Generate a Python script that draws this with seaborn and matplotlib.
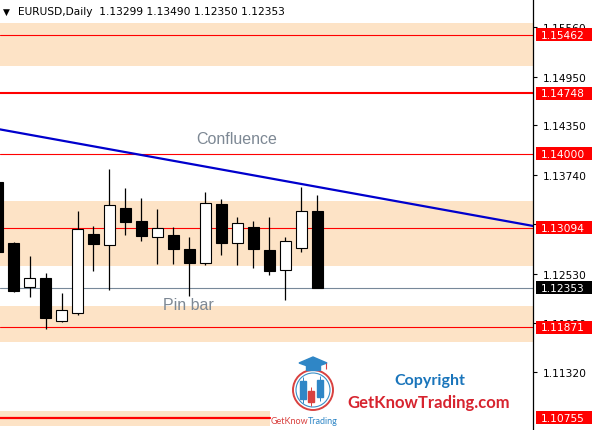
import pandas as pd
import matplotlib.pyplot as plt
import matplotlib.transforms as mtransforms
from matplotlib import patches
import seaborn as sns

sns.set_style("white")
plt.rcParams["font.family"] = ["DejaVu Sans"]

# daily EURUSD candles
opens = [1.13655, 1.12905, 1.12365, 1.12475, 1.11947, 1.12045, 1.13016, 1.12881, 1.13336, 1.13176, 1.12979,
         1.13004, 1.12832, 1.12660, 1.13385, 1.12905, 1.13102, 1.12819, 1.12574, 1.12844, 1.13299]
highs = [1.13700, 1.12920, 1.12746, 1.12537, 1.12291, 1.13299, 1.13114, 1.13815, 1.13581, 1.13458, 1.13323,
         1.13102, 1.12979, 1.13532, 1.13446, 1.13225, 1.13176, 1.13225, 1.12979, 1.13594, 1.13490]
lows = [1.12780, 1.12303, 1.12242, 1.11848, 1.11935, 1.12020, 1.12561, 1.12328, 1.13004, 1.12930, 1.12647,
        1.12647, 1.12254, 1.12635, 1.12758, 1.12635, 1.12598, 1.12512, 1.12205, 1.12795, 1.12350]
closes = [1.12795, 1.12315, 1.12475, 1.11984, 1.12082, 1.13077, 1.12893, 1.13372, 1.13163, 1.12991, 1.13090,
          1.12832, 1.12660, 1.13397, 1.12905, 1.13151, 1.12832, 1.12561, 1.12930, 1.13299, 1.12353]

levels = [1.15462, 1.14748, 1.14000, 1.13094, 1.11871]
level_lw = [0.8, 1.5, 0.8, 0.8, 0.8]
zones = [(1.15081, 1.15609), (1.12623, 1.13422), (1.11689, 1.12131)]
low_zone = (1.10656, 1.10840)
low_level = 1.10755
last_price = 1.12353
trend_x = [0, 34]
trend_y = [1.14307, 1.13096]
ticks = [1.15560, 1.14950, 1.14350, 1.13740, 1.13140, 1.12530, 1.11920, 1.11320]

df = pd.DataFrame({"open": opens, "high": highs, "low": lows, "close": closes})
df["idx"] = range(len(df))
df["up"] = df["close"] >= df["open"]

fig = plt.figure(figsize=(5.95, 4.31), dpi=100)
ax = fig.add_axes([0, 0, 533 / 595, 1])

peach = "#fde3c6"
for lo, hi in zones:
    ax.axhspan(lo, hi, color=peach, lw=0, zorder=0)
ax.axhspan(low_zone[0], low_zone[1], xmax=270 / 533, color=peach, lw=0, zorder=0)

for lv, w in zip(levels, level_lw):
    ax.axhline(lv, color="red", lw=w, zorder=1)
ax.axhline(low_level, xmax=270 / 533, color="red", lw=1.6, zorder=1)
ax.axhline(last_price, color="#778899", lw=0.8, zorder=1)

sns.lineplot(x=trend_x, y=trend_y, ax=ax, color="#0000cd", lw=1.6, zorder=2)

# candles
ax.vlines(df["idx"], df["low"], df["high"], color="black", lw=0.9, zorder=3)
body_lo = df[["open", "close"]].min(axis=1)
body_h = (df["close"] - df["open"]).abs()
ax.bar(df["idx"], body_h, bottom=body_lo, width=0.69,
       color=["white" if u else "black" for u in df["up"]],
       edgecolor="black", lw=0.8, zorder=4)

ax.set_xlim(0.156, 33.47)
ax.set_ylim(1.10607, 1.15904)
ax.set_xticks([])
ax.yaxis.tick_right()
ax.set_yticks(ticks)
ax.set_yticklabels([f"{t:.5f}" for t in ticks])
ax.tick_params(axis="y", right=True, length=3, width=0.8, pad=4, labelsize=7.7, colors="black")
for s in ["left", "top", "bottom"]:
    ax.spines[s].set_visible(False)
ax.spines["right"].set_color("black")
ax.spines["right"].set_linewidth(0.9)

# price labels on the scale
trans = mtransforms.blended_transform_factory(ax.transAxes, ax.transData)
box_h = 13 * (1.15904 - 1.10607) / 431
for lv, col in [(v, "red") for v in levels] + [(low_level, "red"), (last_price, "black")]:
    ax.add_patch(patches.Rectangle((536 / 533, lv - box_h / 2), 56 / 533, box_h, transform=trans,
                                   facecolor=col, edgecolor="none", clip_on=False, zorder=5))
    ax.text(541 / 533, lv, f"{lv:.5f}", transform=trans, color="white", fontsize=7.7,
            ha="left", va="center", zorder=6, clip_on=False)

# annotations
ax.text(12.45, 1.14185, "Confluence", color="#7d8894", fontsize=11.5, family="Liberation Sans",
        ha="left", va="center")
ax.text(10.33, 1.12150, "Pin bar", color="#7d8894", fontsize=11.5, family="Liberation Sans",
        ha="left", va="center")

fig.text(3 / 595, 1 - 12 / 431, "\u25bc", fontsize=6.5, va="center", ha="left", color="black")
fig.text(18 / 595, 1 - 12 / 431, "EURUSD,Daily  1.13299 1.13490 1.12350 1.12353",
         fontsize=7.7, va="center", ha="left", color="black")

# watermark logo
fig.text(430 / 595, 1 - 381 / 431, "Copyright", fontsize=11.5, fontweight="bold", family="Lato",
         color="#1a75bb", ha="center", va="center")
fig.text(429 / 595, 1 - 403 / 431, "GetKnowTrading.com", fontsize=12, fontweight="bold", family="Lato",
         color="#d7242f", ha="center", va="center")
lg = fig.add_axes([283 / 595, 1 - 431 / 431, 65 / 595, 80 / 431])
lg.set_xlim(283, 348)
lg.set_ylim(431, 351)
lg.axis("off")
lg.add_patch(patches.Circle((313, 391), 20, fill=False, ec="#d9413f", lw=1.4))
lg.add_patch(patches.Circle((313, 391), 17, fill=False, ec="#3a8fc7", lw=0.8))
for x0, y0, y1, c in [(300, 382, 400, "#2f86c6"), (308, 392, 403, "#d9413f"), (317, 381, 398, "#2f86c6")]:
    lg.vlines(x0 + 3, y0 - 4, y1 + 4, color=c, lw=0.7)
    lg.add_patch(patches.Rectangle((x0, y0), 6, y1 - y0, color=c))
lg.add_patch(patches.Polygon([(299, 364), (313, 358), (327, 364), (313, 369)], color="#2f86c6"))
lg.add_patch(patches.Rectangle((306, 366), 14, 5, color="#2f86c6"))
lg.vlines(326, 364, 370, color="#d9413f", lw=0.8)
lg.text(308, 422, "GetKnow", color="#d9413f", fontsize=6.5, ha="right", va="center", family="Lato")
lg.text(308, 422, "Trading", color="#2f86c6", fontsize=6.5, ha="left", va="center", family="Lato")

fig.savefig("out.png", dpi=100)
